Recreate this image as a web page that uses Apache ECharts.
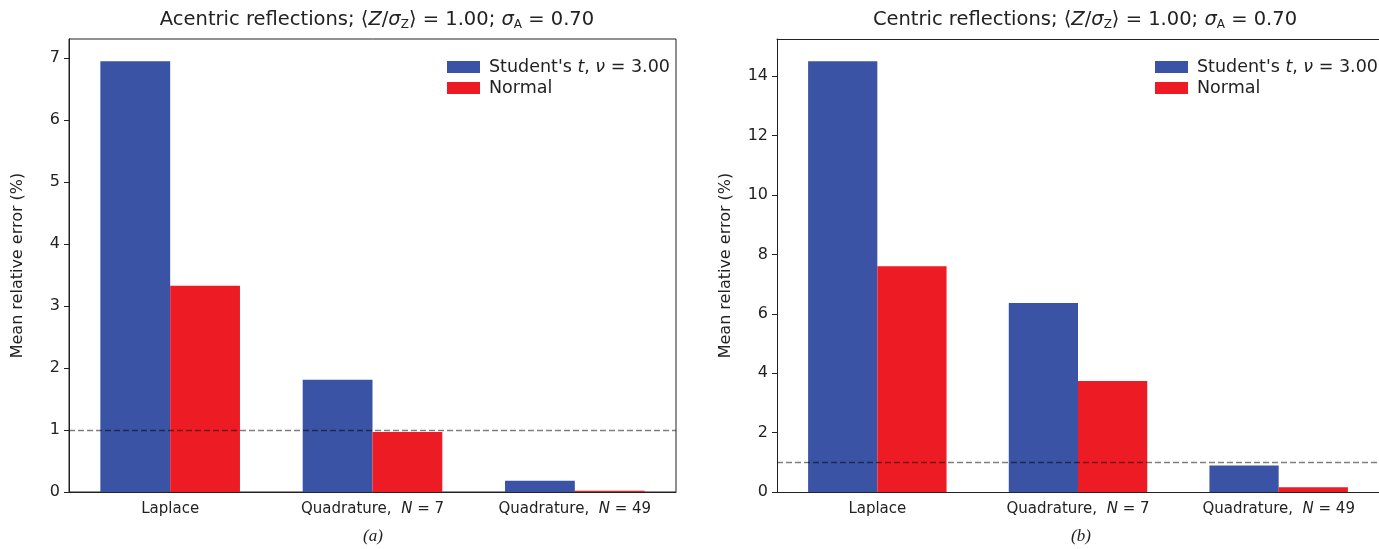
<!DOCTYPE html>
<html>
<head>
<meta charset="utf-8">
<script src="https://cdn.jsdelivr.net/npm/echarts@6/dist/echarts.min.js"></script>
<style>
  html, body { margin: 0; padding: 0; background: #fff; }
  #chart { width: 1379px; height: 549px; }
</style>
</head>
<body>
<div id="chart"></div>
<script>
// data
const categories = ['Laplace', 'Quadrature,  N = 7', 'Quadrature,  N = 49'];
const acentricStudent = [6.95, 1.81, 0.18];
const acentricNormal = [3.33, 0.97, 0.02];
const centricStudent = [14.5, 6.36, 0.89];
const centricNormal = [7.6, 3.74, 0.16];
const acentricTicks = [0, 1, 2, 3, 4, 5, 6, 7];
const centricTicks = [0, 2, 4, 6, 8, 10, 12, 14];
const referenceLevel = 1;

const BLUE = '#3A53A4';
const RED = '#ED1C24';
const INK = '#222';
const FONT = 'DejaVu Sans';

const chart = echarts.init(document.getElementById('chart'));

const titleRich = {
  n: { fontFamily: FONT, fontSize: 19.5, fontWeight: 'normal', color: INK, lineHeight: 22 },
  i: { fontFamily: FONT, fontSize: 19.5, fontWeight: 'normal', fontStyle: 'italic', color: INK, lineHeight: 22 },
  s: { fontFamily: FONT, fontSize: 12, fontWeight: 'normal', color: INK, lineHeight: 12, verticalAlign: 'bottom' }
};

function catLabel(v) {
  const m = v.match(/^(Quadrature,\s+)N( = \d+)$/);
  if (m) return '{n|' + m[1] + '}{i|N}{n|' + m[2] + '}';
  return '{n|' + v + '}';
}

function xAxis(grid) {
  return {
    type: 'category',
    gridIndex: grid,
    data: categories,
    axisLine: { lineStyle: { color: INK, width: 1 } },
    axisTick: { alignWithLabel: true, length: 5, lineStyle: { color: INK } },
    axisLabel: {
      interval: 0,
      margin: 10,
      formatter: catLabel,
      rich: {
        n: { fontFamily: FONT, fontSize: 15, color: INK },
        i: { fontFamily: FONT, fontSize: 15, fontStyle: 'italic', color: INK }
      }
    }
  };
}

// top frame line for the right panel, whose right side runs off the page
function topFrame(grid) {
  return {
    type: 'category',
    gridIndex: grid,
    position: 'top',
    data: categories,
    axisLine: { lineStyle: { color: INK, width: 1 } },
    axisTick: { show: false },
    axisLabel: { show: false }
  };
}

function yAxis(grid, max, ticks) {
  return {
    type: 'value',
    gridIndex: grid,
    min: 0,
    max: max,
    name: 'Mean relative error (%)',
    nameLocation: 'middle',
    nameGap: 43,
    nameTextStyle: { fontFamily: FONT, fontSize: 16, color: INK },
    splitLine: { show: false },
    axisLine: { show: true, lineStyle: { color: INK } },
    axisTick: { show: true, length: 5, customValues: ticks, lineStyle: { color: INK } },
    axisLabel: { customValues: ticks, margin: 9, fontFamily: FONT, fontSize: 16, color: INK }
  };
}

const dashLine = {
  silent: true,
  symbol: 'none',
  label: { show: false },
  lineStyle: { type: [6, 3], color: 'rgba(0,0,0,0.5)', width: 1.3 },
  data: [{ yAxis: referenceLevel }]
};

function bar(name, data, color, idx, withLine) {
  const s = {
    name: name,
    type: 'bar',
    xAxisIndex: idx,
    yAxisIndex: idx,
    data: data,
    barGap: '0%',
    barCategoryGap: '31%',
    itemStyle: { color: color },
    z: 2
  };
  if (withLine) s.markLine = dashLine;
  return s;
}

function legend(left) {
  return {
    orient: 'vertical',
    left: left,
    top: 53,
    itemWidth: 33,
    itemHeight: 12,
    itemGap: 3,
    icon: 'rect',
    data: ["Student's t", 'Normal'],
    formatter: function (n) {
      if (n === "Student's t") return "{n|Student's }{i|t}{n|, }{i|ν}{n| = 3.00}";
      return '{n|' + n + '}';
    },
    textStyle: {
      padding: [0, 0, 0, 4],
      rich: {
        n: { fontFamily: FONT, fontSize: 17.5, color: INK, lineHeight: 20 },
        i: { fontFamily: FONT, fontSize: 17.5, fontStyle: 'italic', color: INK, lineHeight: 20 }
      }
    }
  };
}

const option = {
  animation: false,
  backgroundColor: '#fff',
  title: [
    {
      text: '{n|Acentric reflections; ⟨}{i|Z}{n|/}{i|σ}{s|Z}{n|⟩ = 1.00; }{i|σ}{s|A}{n| = 0.70}',
      left: 372, top: 4, textAlign: 'center',
      textStyle: { fontWeight: 'normal', rich: titleRich }
    },
    {
      text: '{n|Centric reflections; ⟨}{i|Z}{n|/}{i|σ}{s|Z}{n|⟩ = 1.00; }{i|σ}{s|A}{n| = 0.70}',
      left: 1080, top: 4, textAlign: 'center',
      textStyle: { fontWeight: 'normal', rich: titleRich }
    }
  ],
  legend: [legend(442), legend(1150)],
  grid: [
    { left: 69, top: 39, width: 607, height: 453, show: true, borderColor: INK, borderWidth: 1, backgroundColor: 'transparent' },
    { left: 777, top: 39, width: 607, height: 453, show: false }
  ],
  xAxis: [xAxis(0), xAxis(1), topFrame(1)],
  yAxis: [yAxis(0, 7.31, acentricTicks), yAxis(1, 15.25, centricTicks)],
  series: [
    bar("Student's t", acentricStudent, BLUE, 0, false),
    bar('Normal', acentricNormal, RED, 0, true),
    bar("Student's t", centricStudent, BLUE, 1, false),
    bar('Normal', centricNormal, RED, 1, true)
  ],
  graphic: [
    { type: 'text', left: 363, top: 528, style: { text: '(a)', font: 'italic 17px "Liberation Serif"', fill: INK } },
    { type: 'text', left: 1071, top: 528, style: { text: '(b)', font: 'italic 17px "Liberation Serif"', fill: INK } }
  ]
};

chart.setOption(option);
</script>
</body>
</html>
